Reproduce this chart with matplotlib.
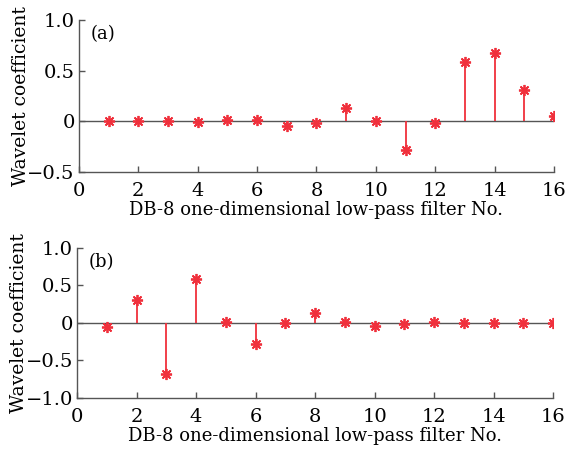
import numpy as np
import matplotlib
matplotlib.use('Agg')
import matplotlib.pyplot as plt

plt.rcParams['font.family'] = 'DejaVu Serif'
plt.rcParams['mathtext.fontset'] = 'dejavuserif'

# filter index
idx = np.arange(1, 17)
# (a) DB-8 low-pass decomposition coefficients
coef_a = [-0.0001, 0.0007, -0.0004, -0.0049, 0.0087, 0.0140, -0.0441, -0.0174,
          0.1287, 0.0005, -0.2840, -0.0158, 0.5854, 0.6756, 0.3129, 0.0544]
# (b) DB-8 high-pass decomposition coefficients
coef_b = [-0.0544, 0.3129, -0.6756, 0.5854, 0.0158, -0.2840, -0.0005, 0.1287,
          0.0174, -0.0441, -0.0140, 0.0087, 0.0049, -0.0004, -0.0007, -0.0001]

xticks = [0, 2, 4, 6, 8, 10, 12, 14, 16]
yticks_a = [-0.5, 0, 0.5, 1.0]
yticks_b = [-1.0, -0.5, 0, 0.5, 1.0]


def fmt(v):
    if v == 0:
        return '0'
    return ('\u2212%.1f' % abs(v)) if v < 0 else '%.1f' % v


fig = plt.figure(figsize=(5.82, 4.5), dpi=100)
ax1 = fig.add_axes([0.1357, 0.6178, 0.8162, 0.3378])
ax2 = fig.add_axes([0.1323, 0.1156, 0.8179, 0.3333])

red = '#f0303c'
for ax, data, yt, tag in [(ax1, coef_a, yticks_a, '(a)'), (ax2, coef_b, yticks_b, '(b)')]:
    ax.plot([0, 16], [0, 0], color='#555555', lw=1.0, zorder=1)
    ax.vlines(idx, 0, data, color=red, lw=1.3, zorder=2)
    ax.plot(idx, data, ls='none', marker=(8, 2, 0), ms=8, mew=1.3,
            color=red, zorder=3)
    ax.set_xlim(0, 16)
    ax.set_ylim(yt[0], yt[-1])
    ax.set_xticks(xticks)
    ax.set_yticks(yt)
    ax.set_yticklabels([fmt(v) for v in yt])
    for s in ['top', 'right']:
        ax.spines[s].set_visible(False)
    for s in ['left', 'bottom']:
        ax.spines[s].set_color('#555555')
        ax.spines[s].set_linewidth(1.0)
    ax.tick_params(direction='in', length=4, width=1.0, color='#555555',
                   labelsize=14)
    ax.tick_params(axis='y', pad=3)
    ax.tick_params(axis='x', pad=7)
    ax.set_xlabel('DB-8 one-dimensional low-pass filter No.', fontsize=13, labelpad=1)
    ax.set_ylabel('Wavelet coefficient', fontsize=13.5, labelpad=-2)
    ax.text(0.025, 0.965, tag, transform=ax.transAxes, fontsize=13,
            ha='left', va='top')

fig.savefig('out.png', dpi=100)
